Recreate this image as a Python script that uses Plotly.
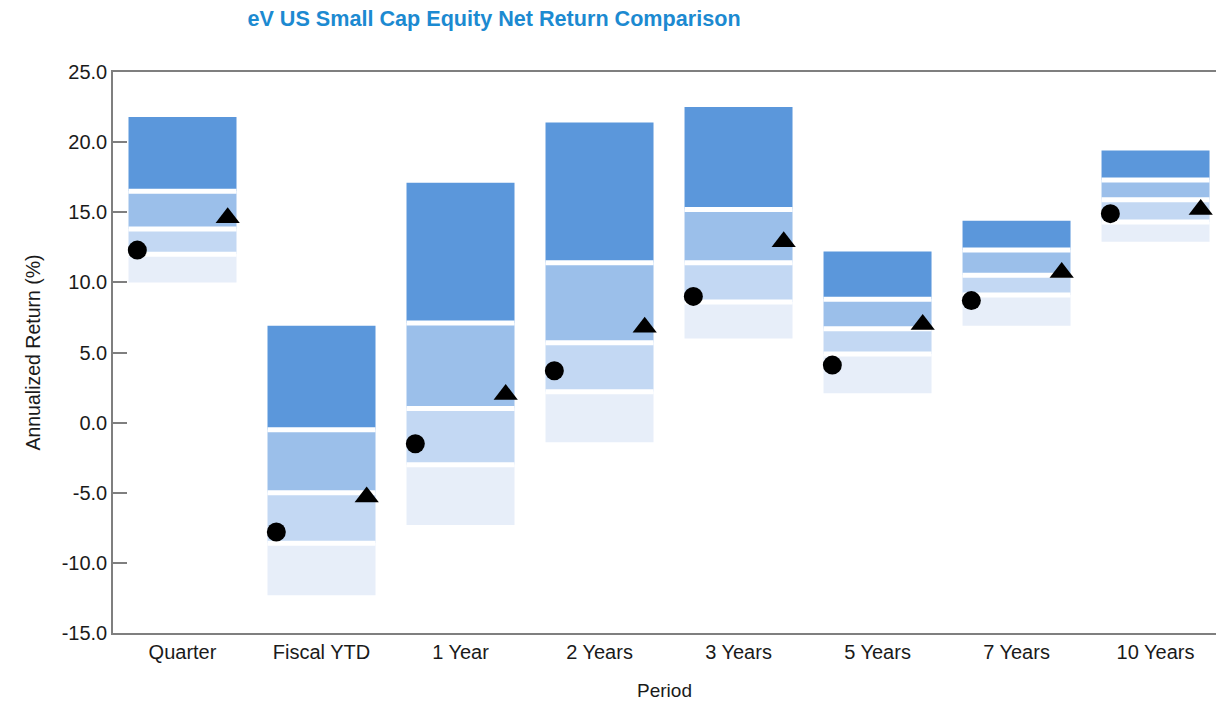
import plotly.graph_objects as go

# Peer-universe percentile ranges (annualized net return, %)
periods = ["Quarter", "Fiscal YTD", "1 Year", "2 Years", "3 Years", "5 Years", "7 Years", "10 Years"]
p05 = [21.8, 6.9, 17.1, 21.4, 22.5, 12.2, 14.4, 19.4]
p25 = [16.5, -0.5, 7.1, 11.4, 15.2, 8.8, 12.3, 17.3]
p50 = [13.8, -5.0, 1.0, 5.7, 11.4, 6.7, 10.5, 15.9]
p75 = [12.0, -8.6, -3.0, 2.2, 8.6, 4.9, 9.1, 14.3]
p95 = [10.0, -12.3, -7.3, -1.4, 6.0, 2.1, 6.9, 12.9]

# Portfolio (circle) and benchmark (triangle) returns
portfolio = [12.3, -7.8, -1.5, 3.7, 9.0, 4.1, 8.7, 14.9]
benchmark = [14.6, -5.3, 2.0, 6.8, 12.9, 7.0, 10.7, 15.2]

y_ticks = [-15, -10, -5, 0, 5, 10, 15, 20, 25]
y_ticktext = [f"{v:.1f}" for v in y_ticks]

x = list(range(len(periods)))
bar_w = 0.777
shade = ["#5B97DB", "#9BBFEA", "#C3D8F3", "#E7EEF9"]
FONT = "Liberation Sans, Arial, sans-serif"

fig = go.Figure()

bands = [(p25, p05), (p50, p25), (p75, p50), (p95, p75)]
for (lo, hi), col in zip(bands, shade):
    fig.add_trace(go.Bar(
        x=x, base=lo, y=[h - l for h, l in zip(hi, lo)], width=bar_w,
        marker=dict(color=col, line=dict(width=0)),
        showlegend=False, hoverinfo="skip",
    ))

# white separators at the quartile boundaries
for edge in (p25, p50, p75):
    fig.add_trace(go.Scatter(
        x=x, y=edge, mode="markers",
        marker=dict(symbol="line-ew", size=108 / 1.4,
                    line=dict(color="white", width=5)),
        showlegend=False, hoverinfo="skip",
    ))

off = 0.325
fig.add_trace(go.Scatter(
    x=[i - off for i in x], y=portfolio, mode="markers",
    marker=dict(symbol="circle", size=19, color="black"),
    name="Portfolio", showlegend=False,
))
fig.add_trace(go.Scatter(
    x=[i + off for i in x], y=benchmark, mode="markers",
    marker=dict(symbol="triangle-up", size=21, color="black"),
    name="Benchmark", showlegend=False,
))

fig.update_layout(
    width=1216, height=704,
    margin=dict(l=113, r=0, t=72, b=71),
    paper_bgcolor="white", plot_bgcolor="white",
    barmode="overlay",
    font=dict(family=FONT, size=20, color="#1A1A1A"),
    title=dict(
        text="<b>eV US Small Cap Equity Net Return Comparison</b>",
        font=dict(family=FONT, size=21.6, color="#1C8AD1"),
        x=494 / 1216, xanchor="center", xref="container",
        y=1 - 18 / 704, yanchor="middle", yref="container",
    ),
    xaxis=dict(
        range=[-0.5, 7.435], tickvals=x, ticktext=periods,
        showline=True, mirror=True, linecolor="#7F7F7F", linewidth=1.5,
        showgrid=False, zeroline=False, ticks="",
        tickfont=dict(size=20),
        title=dict(text="Period", font=dict(size=19), standoff=22),
    ),
    yaxis=dict(
        range=[-15, 25], tickvals=y_ticks, ticktext=y_ticktext,
        showline=True, linecolor="#7F7F7F", linewidth=1.5,
        ticks="inside", ticklen=14, tickcolor="#7F7F7F", tickwidth=1.5,
        showgrid=False, zeroline=False,
        tickfont=dict(size=20),
        title=dict(text="Annualized Return (%)", font=dict(size=19.5), standoff=16),
    ),
)

fig.write_html("out.html")
